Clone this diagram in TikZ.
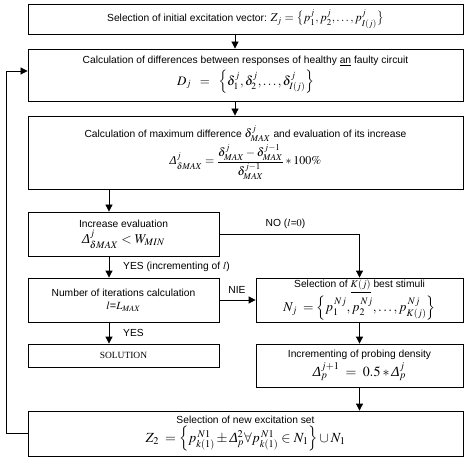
\documentclass[tikz,border=0pt]{standalone}
\usepackage{amsmath}
\usepackage{mathptmx}
\usepackage[no-math]{fontspec}
\setmainfont{Liberation Serif}
\setsansfont{Liberation Sans}
\usetikzlibrary{arrows.meta}
\tikzset{
  box/.style={draw, line width=0.8bp, inner sep=0pt, align=center, font=\sffamily\fontsize{10.3}{12}\selectfont},
  arr/.style={line width=0.8bp, -{Triangle[length=7bp,width=7bp]}},
  lbl/.style={font=\sffamily\fontsize{10.3}{12}\selectfont, inner sep=0pt}
}
\newcommand{\fs}[1]{\fontsize{#1}{#1}\selectfont}
\newcommand{\Dl}{\mathord{\text{\normalfont\rmfamily\itshape Δ}}}
\begin{document}
\begin{tikzpicture}[x=1bp,y=-1bp]
\useasboundingbox (0,0) rectangle (474,459);
\node[box, minimum width=435bp, minimum height=30bp] (b1) at (245.5,19)
  {Selection of initial excitation vector: {\fs{12}$Z_j=\bigl\{p_1^j,p_2^j,\dots,p_{I(j)}^j\bigr\}$}};
\node[box, minimum width=435bp, minimum height=52bp] (b2) at (245.5,75)
  {Calculation of differences between responses of healthy \underline{an} faulty circuit\\[3bp]
   {\fs{13}$D_j\;\;=\;\;\Bigl\{\delta_1^j,\delta_2^j,\dots,\delta_{I(j)}^j\Bigr\}$}};
\node[box, minimum width=435bp, minimum height=73bp] (b3) at (245.5,152.5)
  {Calculation of maximum difference {\fs{12}$\delta^j_{MAX}$} and evaluation of its increase\\[2bp]
   {\fs{12}$\Dl^j_{\delta MAX}=\dfrac{\delta^j_{MAX}-\delta^{j-1}_{MAX}}{\delta^{j-1}_{MAX}}*100\%$}};
\node[box, minimum width=191bp, minimum height=44bp] (inc) at (123.5,234)
  {Increase evaluation\\[2bp]{\fs{13.5}$\Dl^j_{\delta MAX}<W_{MIN}$}};
\node[box, minimum width=191bp, minimum height=44bp] (num) at (123.5,300)
  {Number of iterations calculation\\[1bp]{\fs{11}$l$=$L_{MAX}$}};
\node[box, minimum width=207bp, minimum height=44bp] (kb) at (359.5,300)
  {Selection of \underline{$K(j)$} best stimuli\\[2bp]
   {\fs{13.5}$N_j\;=\Bigl\{p_1^{\,Nj},p_2^{\,Nj},\dots,p_{K(j)}^{\,Nj}\Bigr\}$}};
\node[box, font=\rmfamily\fontsize{9.5}{11}\selectfont, minimum width=191bp, minimum height=23bp] (sol) at (123.5,355.5) {SOLUTION};
\node[box, minimum width=207bp, minimum height=43bp] (incr) at (359.5,365.5)
  {Incrementing of probing density\\[2bp]{\fs{14}$\Dl_p^{j+1}\;=\;0.5*\Dl_p^j$}};
\node[box, minimum width=435bp, minimum height=45bp] (ns) at (245.5,433.5)
  {Selection of new excitation set\\[2bp]
   {\fs{14}$Z_2\;=\Bigl\{p^{\,N1}_{k(1)}\pm\Dl^2_p\forall p^{\,N1}_{k(1)}\in N_1\Bigr\}\cup N_1$}};
% labels
\node[lbl] (lno) at (285.5,224) {NO ($l$=$0$)};
\node[lbl, anchor=west] (lyes1) at (123,267) {YES (incrementing of $l$)};
\node[lbl, anchor=west] (lyes2) at (123,333) {YES};
\node[lbl] (lnie) at (237,290) {NIE};
% connectors
\draw[arr] ([xshift=-10.5bp]b1.south) -- ([xshift=-10.5bp]b2.north);
\draw[arr] ([xshift=-10.5bp]b2.south) -- ([xshift=-10.5bp]b3.north);
\coordinate (cin) at ([xshift=-14.5bp]inc.north);
\draw[arr] (b3.south -| cin) -- (cin);
\draw[arr] ([xshift=-14.5bp]inc.south) -- ([xshift=-14.5bp]num.north);
\draw[arr] ([xshift=-14.5bp]num.south) -- ([xshift=-14.5bp]sol.north);
\draw[arr] (inc.east) -| (kb.north);
\draw[arr] (num.east) -- (kb.west);
\draw[arr] (kb.south) -- (incr.north);
\draw[arr] (incr.south) -- (ns.north -| incr.south);
\coordinate (loopl) at (6,433.5);
\draw[arr] (ns.west) -- (loopl) |- ([yshift=4bp]b2.west);
\end{tikzpicture}
\end{document}
